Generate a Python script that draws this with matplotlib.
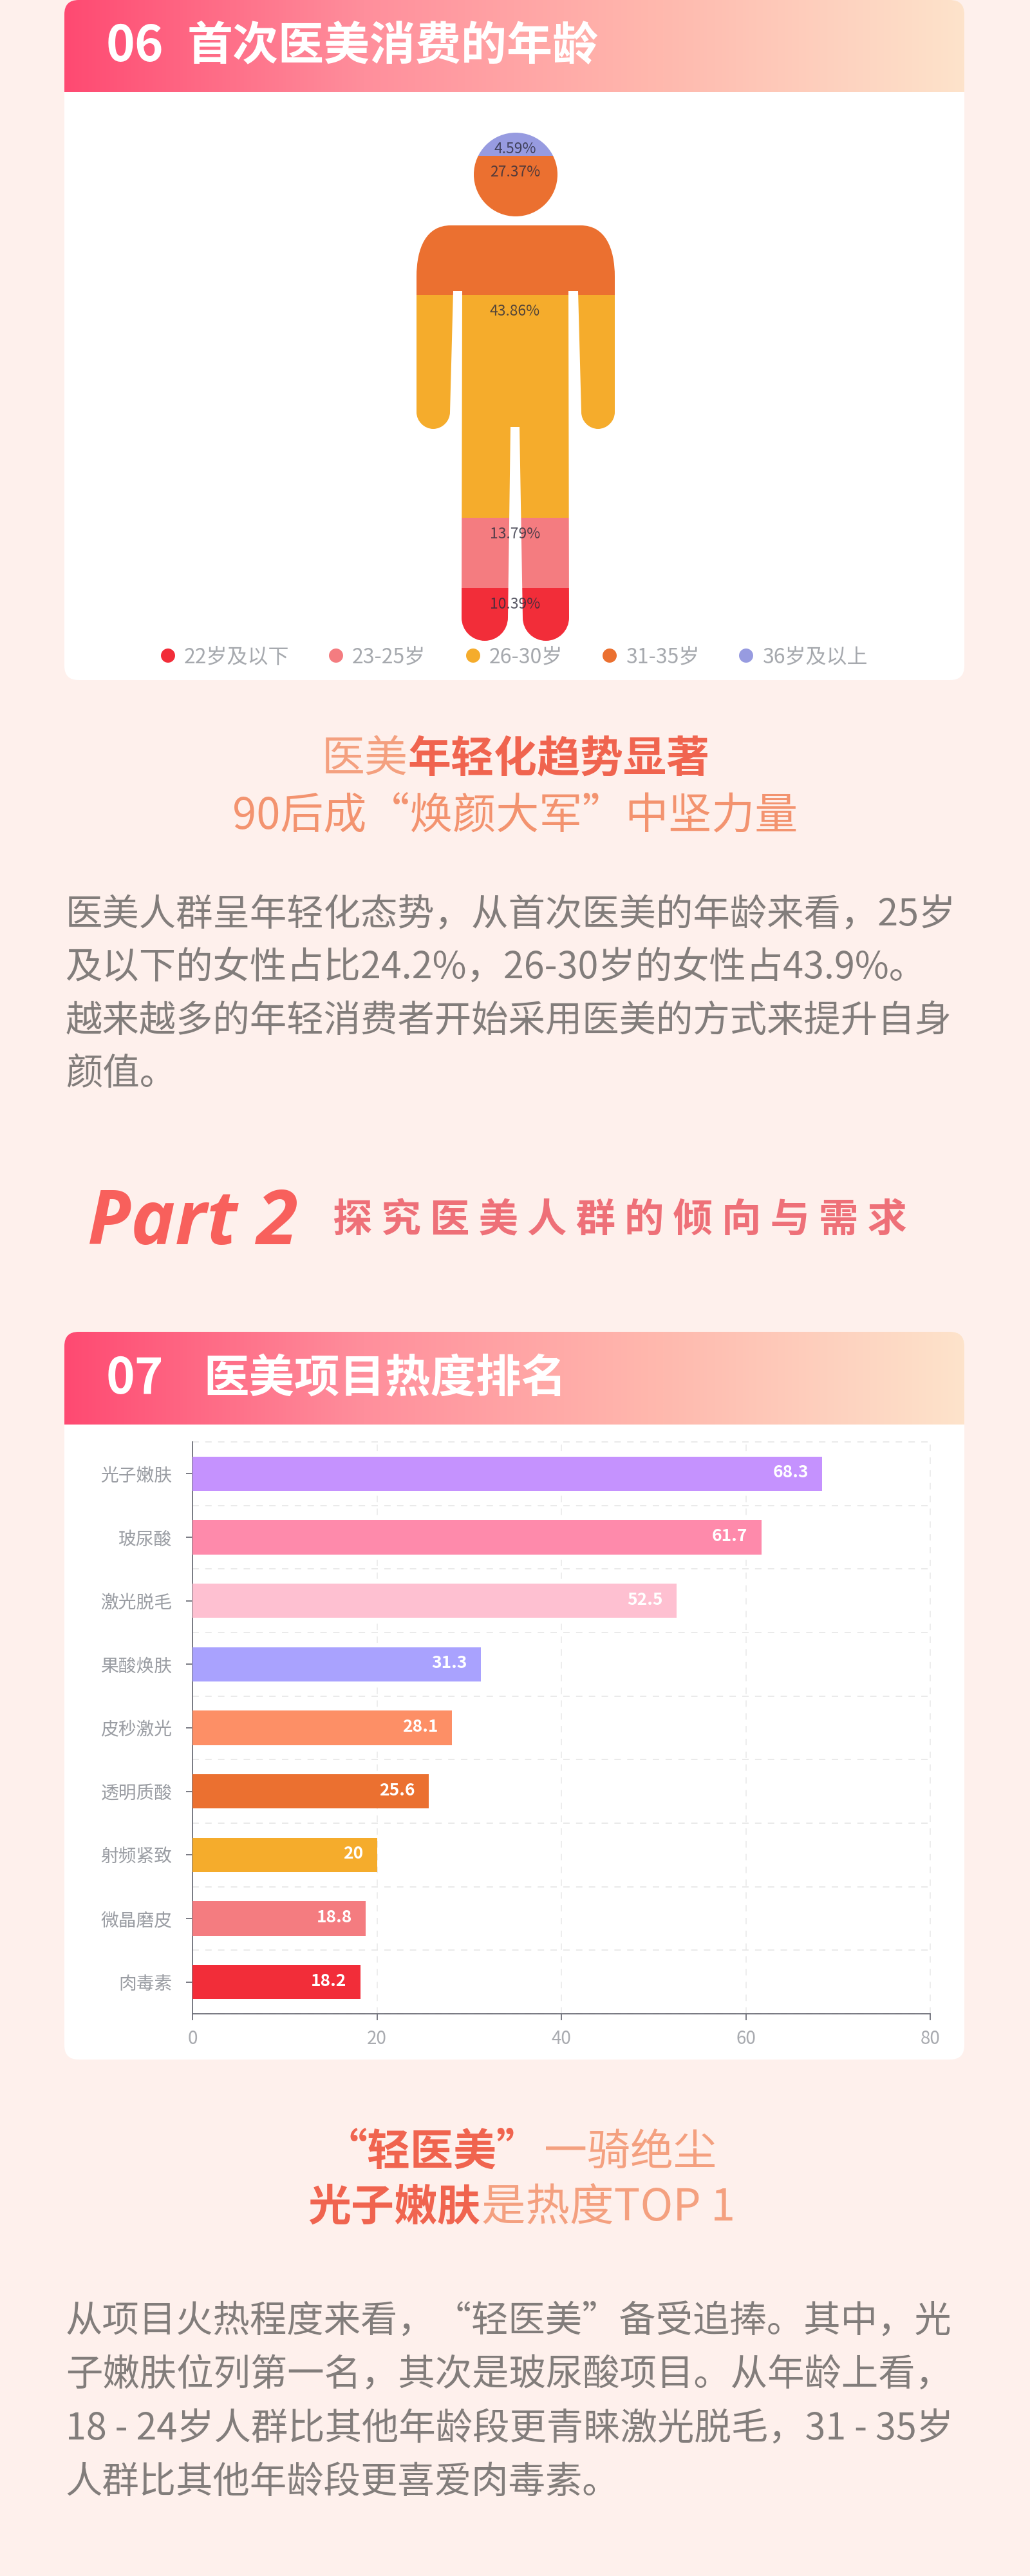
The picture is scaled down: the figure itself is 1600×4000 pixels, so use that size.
#!/usr/bin/env python3
# -*- coding: utf-8 -*-
"""首次医美年龄 + 医美项目热度 长图"""

import numpy as np
import matplotlib
matplotlib.use("Agg")
import matplotlib.pyplot as plt
from matplotlib.colors import LinearSegmentedColormap
from matplotlib.patches import FancyBboxPatch, PathPatch
from matplotlib.path import Path

CJK = ["Noto Sans CJK SC", "DejaVu Sans"]
plt.rcParams["font.family"] = CJK

# 首次医美年龄（从脚到头）
age_groups = ["22岁及以下", "23-25岁", "26-30岁", "31-35岁", "36岁及以上"]
age_shares = [10.39, 13.79, 43.86, 27.37, 4.59]
age_colors = ["#f22d39", "#f47c80", "#f5ac2c", "#eb7030", "#979be0"]

# 医美项目热度
projects = ["光子嫩肤", "玻尿酸", "激光脱毛", "果酸焕肤", "皮秒激光",
            "透明质酸", "射频紧致", "微晶磨皮", "肉毒素"]
heat = [68.3, 61.7, 52.5, 31.3, 28.1, 25.6, 20, 18.8, 18.2]
bar_colors = ["#c592fe", "#fe8aab", "#fec0d1", "#a9a2fe", "#fd8f66",
              "#eb7030", "#f5ac2c", "#f47c80", "#f22d39"]
heat_ticks = [0, 20, 40, 60, 80]

para1 = ["医美人群呈年轻化态势，从首次医美的年龄来看，25岁",
         "及以下的女性占比24.2%，26-30岁的女性占43.9%。",
         "越来越多的年轻消费者开始采用医美的方式来提升自身",
         "颜值。"]
para2 = ["从项目火热程度来看，“轻医美”备受追捧。其中，光",
         "子嫩肤位列第一名，其次是玻尿酸项目。从年龄上看，",
         "18 - 24岁人群比其他年龄段更青睐激光脱毛，31 - 35岁",
         "人群比其他年龄段更喜爱肉毒素。"]

W, H = 1600, 4000
BG = "#fef0ec"
GREY = "#827d7b"
LIGHT = "#f4a07f"
STRONG = "#f0644f"

fig = plt.figure(figsize=(W / 100, H / 100), dpi=100, facecolor=BG)
page = fig.add_axes([0, 0, 1, 1])
page.set_axis_off()


def put(x, yc, s, px, color, ha="left", weight="normal", family=None, **kw):
    """按像素字号写字，yc 是字面中线"""
    return page.text(x, yc + 0.36 * px, s, fontsize=px * 0.72, color=color, ha=ha,
                     va="baseline", fontweight=weight, family=family or CJK, **kw)


def card(top, head_bottom, bottom):
    """白色圆角卡片 + 渐变标题条"""
    box = FancyBboxPatch((100, top), 1398, bottom - top, boxstyle="round,pad=0,rounding_size=22",
                         fc="white", ec="none", zorder=1)
    page.add_patch(box)
    grad = np.linspace(0, 1, 512).reshape(1, -1)
    cmap = LinearSegmentedColormap.from_list("head", ["#fe4a72", "#ff8f9c", "#ffb9ae", "#fde3cb"])
    im = page.imshow(grad, extent=(100, 1498, head_bottom, top), cmap=cmap, aspect="auto", zorder=2)
    im.set_clip_path(box)


card(0, 143, 1056)
card(2068, 2212, 3198)
page.set_xlim(0, W)
page.set_ylim(H, 0)

# 标题条
put(165, 68, "06", 76, "white", weight="bold", zorder=3)
put(291, 68, "首次医美消费的年龄", 71, "white", weight="bold", zorder=3)
put(165, 2137, "07", 76, "white", weight="bold", zorder=3)
put(316, 2137, "医美项目热度排名", 70.5, "white", weight="bold", zorder=3)

# 人形轮廓，只用来裁剪堆叠柱
M, L, C, Z = Path.MOVETO, Path.LINETO, Path.CURVE4, Path.CLOSEPOLY
outline = [
    (M, (700, 350)), (L, (902, 350)),
    (C, (940, 350)), (C, (955, 385)), (C, (955, 430)),
    (L, (955, 640)),
    (C, (955, 654)), (C, (943, 666)), (C, (929, 666)),
    (C, (915, 666)), (C, (903, 654)), (C, (903, 640)),
    (L, (898, 452)), (L, (883, 452)),
    (L, (884, 959)),
    (C, (884, 979)), (C, (868, 995)), (C, (848, 995)),
    (C, (828, 995)), (C, (812, 979)), (C, (812, 959)),
    (L, (807, 663)), (L, (793, 663)),
    (L, (789, 959)),
    (C, (789, 979)), (C, (773, 995)), (C, (753, 995)),
    (C, (733, 995)), (C, (717, 979)), (C, (717, 959)),
    (L, (718, 452)), (L, (704, 452)), (L, (699, 640)),
    (C, (699, 654)), (C, (687, 666)), (C, (673, 666)),
    (C, (659, 666)), (C, (647, 654)), (C, (647, 640)),
    (L, (647, 430)),
    (C, (647, 385)), (C, (662, 350)), (C, (700, 350)),
    (Z, (700, 350)),
]
torso = Path([p for _, p in outline], [c for c, _ in outline])
head = Path.unit_circle().transformed(matplotlib.transforms.Affine2D().scale(65).translate(801, 271))
figure_path = Path.make_compound_path(head, torso)
clip = PathPatch(figure_path, transform=page.transData, fc="none", ec="none")
page.add_patch(clip)

body = fig.add_axes([640 / W, 1 - 995 / H, 320 / W, (995 - 206) / H], zorder=2)
body.set_axis_off()
body.set_xlim(-0.5, 0.5)
body.set_ylim(0, 100)
bottom = 0
for share, col in zip(age_shares, age_colors):
    bar = body.bar(0, share, bottom=bottom, width=1, color=col)[0]
    bar.set_clip_path(clip)
    # 标签贴在每段顶部往下一点
    body.annotate(f"{share:.2f}%", (0, bottom + share), xytext=(0, -18), textcoords="offset points",
                  ha="center", va="center", fontsize=16.5, color="#2c2c3c", alpha=0.8)
    bottom += share

# 图例
legend_x = [261, 522, 735, 947, 1159]
page.scatter(legend_x, [1018] * 5, s=250, c=age_colors, zorder=3, linewidths=0)
for x, name in zip(legend_x, age_groups):
    put(x + 25, 1018, name, 32, "#a6a9ae", zorder=3)

# 小标题 1
put(500, 1175, "医美", 67, LIGHT)
put(634, 1175, "年轻化趋势显著", 67, STRONG, weight="bold")
put(800, 1263, "90后成“焕颜大军”中坚力量", 67, "#f3936f", ha="center")

for i, line in enumerate(para1):
    put(102, 1416 + i * 82.5, line, 57.4, GREY)

# Part 2
put(136, 1890, "Part 2", 116, "#f8605c", weight="bold", style="italic", family=["Open Sans", "DejaVu Sans"])
put(517, 1891, "探 究 医 美 人 群 的 倾 向 与 需 求", 61.5, "#ee7078", weight="bold")

# 热度条形图
ax = fig.add_axes([299 / W, 1 - 3127 / H, (1445 - 299) / W, (3127 - 2239) / H], zorder=2)
ax.patch.set_alpha(0)
ypos = np.arange(len(projects))
ax.barh(ypos, heat, height=0.54, color=bar_colors, zorder=3)
for y, v in zip(ypos, heat):
    ax.annotate(f"{v:g}", (v, y), xytext=(-15.5, 1), textcoords="offset points", ha="right", va="center",
                color="white", fontsize=19, fontweight="bold", zorder=4)
ax.set_xlim(0, 80)
ax.set_ylim(len(projects) - 0.5, -0.5)
ax.set_xticks(heat_ticks)
ax.set_yticks(ypos, projects)
ax.set_yticks(np.r_[ypos - 0.5, ypos[-1] + 0.5], minor=True)
ax.tick_params(axis="y", which="minor", length=0)
ax.tick_params(axis="y", which="major", length=7.2, width=1.3, color="#6e7079", pad=15.5,
               labelsize=20, labelcolor="#9a9da3")
ax.tick_params(axis="x", length=7.2, width=1.3, color="#6e7079", pad=10, labelsize=20, labelcolor="#a9abb0")
dash = (0, (6.5, 6.5))
ax.grid(True, axis="x", which="major", color="#e8e8e8", lw=1.1, ls=dash, zorder=0)
ax.grid(True, axis="y", which="minor", color="#e4e4e4", lw=1.1, ls=dash, zorder=0)
ax.grid(False, axis="y", which="major")
for t in ax.xaxis.get_major_ticks() + ax.yaxis.get_minor_ticks():
    t.gridline.set_clip_on(False)
for side in ["top", "right"]:
    ax.spines[side].set_visible(False)
for side in ["left", "bottom"]:
    ax.spines[side].set_color("#6e7079")
    ax.spines[side].set_linewidth(1.3)

# 小标题 2
put(504, 3338, "“轻医美”", 67, STRONG, weight="bold")
put(845, 3338, "一骑绝尘", 67, LIGHT)
put(478, 3424, "光子嫩肤", 67, STRONG, weight="bold")
put(748, 3424, "是热度TOP 1", 68.5, LIGHT)

for i, line in enumerate(para2):
    put(102, 3601 + i * 83, line, 57.4, GREY)

fig.savefig("out.png", dpi=100, facecolor=BG)
